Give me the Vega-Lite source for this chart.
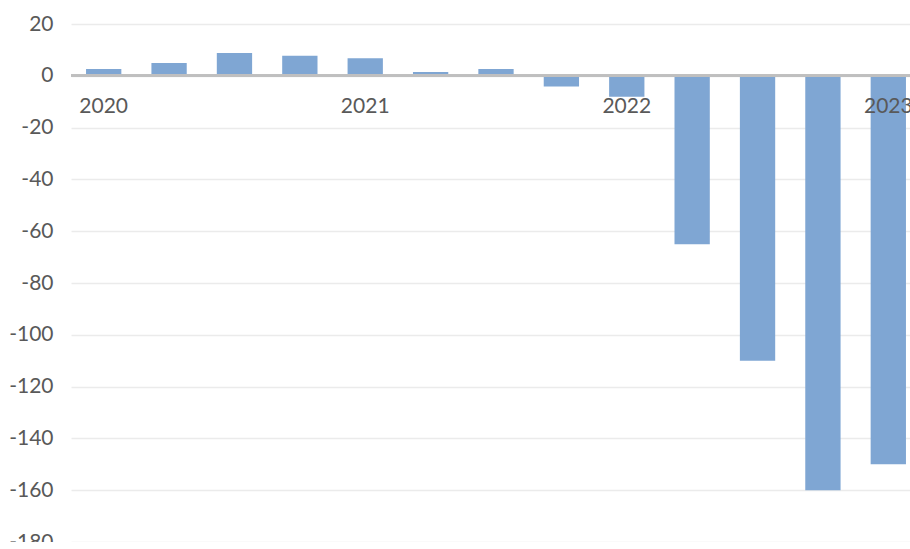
{
  "$schema": "https://vega.github.io/schema/vega-lite/v6.json",
  "autosize": {"type": "none"},
  "padding": {"left": 71, "top": 24, "right": 0, "bottom": 0},
  "width": 850,
  "height": 518,
  "background": "white",
  "config": {"view": {"stroke": null}},
  "data": {"values": [
    {"q": "2020Q1", "v": 2.6},
    {"q": "2020Q2", "v": 4.9},
    {"q": "2020Q3", "v": 8.8},
    {"q": "2020Q4", "v": 7.7},
    {"q": "2021Q1", "v": 6.8},
    {"q": "2021Q2", "v": 1.5},
    {"q": "2021Q3", "v": 2.6},
    {"q": "2021Q4", "v": -4.1},
    {"q": "2022Q1", "v": -8.1},
    {"q": "2022Q2", "v": -65},
    {"q": "2022Q3", "v": -110},
    {"q": "2022Q4", "v": -160},
    {"q": "2023Q1", "v": -150}
  ]},
  "layer": [
    {
      "mark": {"type": "bar", "color": "#7fa6d3"},
      "encoding": {
        "x": {
          "field": "q", "type": "ordinal", "sort": null,
          "scale": {"paddingInner": 0.46, "paddingOuter": 0.23},
          "axis": {
            "orient": "bottom", "offset": -466.2, "title": null, "zindex": 2,
            "domain": false, "ticks": false, "labelAngle": 0,
            "labelExpr": "indexof(datum.value, 'Q1') > 0 ? substring(datum.value, 0, 4) : ''",
            "labelFont": "Lato", "labelFontSize": 21, "labelColor": "#595959",
            "labelPadding": 20, "labelOverlap": false, "grid": false
          }
        },
        "y": {
          "field": "v", "type": "quantitative",
          "scale": {"domain": [-180, 20], "nice": false, "zero": false},
          "axis": {
            "title": null, "values": [20, 0, -20, -40, -60, -80, -100, -120, -140, -160, -180],
            "domain": false, "ticks": false, "labelPadding": 18,
            "labelExpr": "replace(datum.label, '\u2212', '-')",
            "labelFont": "Lato", "labelFontSize": 21, "labelColor": "#595959",
            "gridColor": "#ebebeb", "gridWidth": 1.5
          }
        }
      }
    },
    {
      "mark": {"type": "rule", "color": "#bfbfbf", "strokeWidth": 2.5},
      "encoding": {"y": {"datum": 0}}
    }
  ]
}
